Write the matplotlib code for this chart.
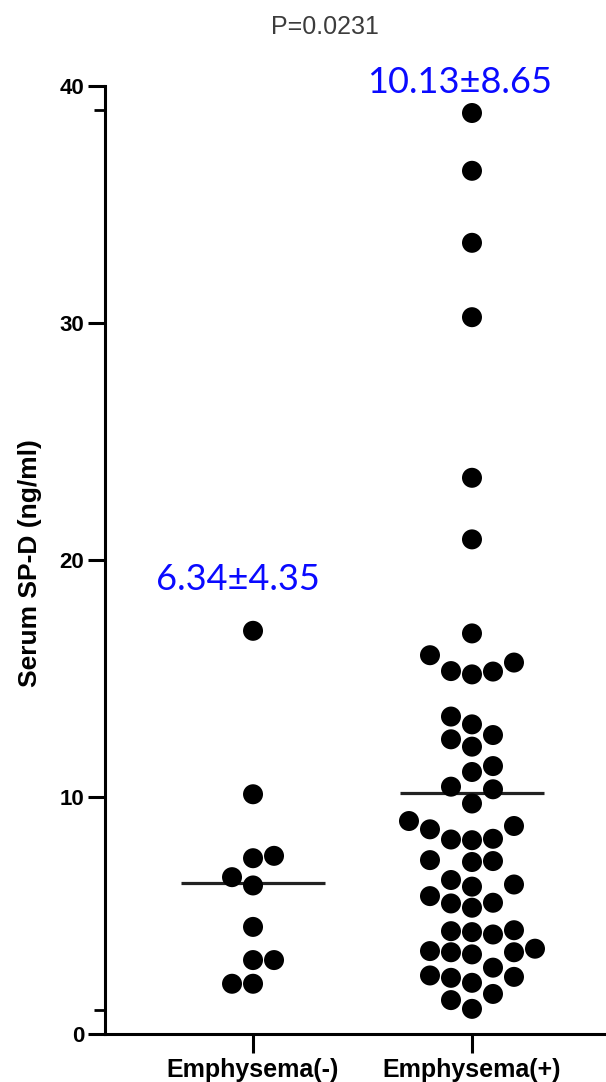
import numpy as np
import matplotlib.pyplot as plt

groups = ["Emphysema(-)", "Emphysema(+)"]

# serum SP-D (ng/ml)
neg_values = [17.0, 10.1, 7.5, 7.4, 6.6, 6.25, 4.5, 3.1, 3.1, 2.1, 2.1]
pos_values = [38.86, 36.42, 33.38, 30.24, 23.46, 20.86, 16.89,
              15.16, 15.28, 15.66, 15.97, 15.30,
              13.38, 13.05, 12.60, 12.42, 12.11,
              11.29, 11.04, 10.31, 10.42, 9.71,
              8.97, 8.76, 8.19, 8.22, 8.16, 8.62,
              7.24, 7.32, 7.28,
              5.80, 6.20, 6.29, 6.48,
              5.31, 5.49, 5.52,
              4.28, 4.36, 4.18, 4.32,
              3.34, 3.43, 3.43, 3.48, 3.58,
              2.45, 2.14, 2.78, 2.35, 2.39,
              1.67, 1.41, 1.04]
mean_labels = ["6.34\u00b14.35", "10.13\u00b18.65"]
p_label = "P=0.0231"
y_major = [0, 10, 20, 30, 40]
y_minor = [1, 39]

W, H = 606, 1082
xmin, xmax = -0.676, 1.612
ymin, ymax = 0, 40
ax_rect = [105 / W, 48.5 / H, 1 - 105 / W, 947.5 / H]

dot_px = 20      # marker diameter in pixels
col_px = 21      # spacing of swarm columns


def grid_swarm(values, dx, dy):
    # put each dot in the nearest column (0, -1, +1, ...) where it does not overlap
    vals = np.asarray(values, dtype=float)
    placed = {}
    offs = np.zeros(len(vals))
    for i in np.argsort(vals, kind="stable"):
        left = sum(len(v) for c, v in placed.items() if c < 0)
        right = sum(len(v) for c, v in placed.items() if c > 0)
        k = 0
        while True:
            if k == 0:
                cands = [0]
            else:
                cands = [-k, k] if left <= right else [k, -k]
            free = [c for c in cands
                    if all(abs(vals[i] - u) >= dy for u in placed.get(c, []))]
            if free:
                col = free[0]
                break
            k += 1
        placed.setdefault(col, []).append(vals[i])
        offs[i] = col * dx
    return offs


fig = plt.figure(figsize=(W / 100, H / 100), dpi=100)
ax = fig.add_axes(ax_rect)
ax.set_xlim(xmin, xmax)
ax.set_ylim(ymin, ymax)

px_x = ax_rect[2] * W / (xmax - xmin)
px_y = ax_rect[3] * H / (ymax - ymin)

for i, vals in enumerate([neg_values, pos_values]):
    offs = grid_swarm(vals, col_px / px_x, col_px / px_y)
    ax.scatter(i + offs, vals, s=(dot_px * 0.72) ** 2, color="black",
               edgecolors="none", zorder=3, clip_on=False)
    ax.hlines(np.mean(vals), i - 0.33, i + 0.33, color="#222222",
              linewidth=2.3, zorder=2)

ax.spines["top"].set_visible(False)
ax.spines["right"].set_visible(False)
ax.spines["left"].set_linewidth(2.2)
ax.spines["bottom"].set_linewidth(2.2)

ax.set_yticks(y_major)
ax.set_yticks(y_minor, minor=True)
ax.set_xticks([0, 1])
ax.set_xticklabels(groups)
ax.tick_params(axis="y", which="major", length=12, width=2.2, pad=3)
ax.tick_params(axis="y", which="minor", length=8, width=2.0)
ax.tick_params(axis="x", which="major", length=14, width=2.2, pad=4)
for lab in ax.get_yticklabels():
    lab.set_fontproperties({"family": "Liberation Sans", "weight": "bold", "size": 16})
for lab in ax.get_xticklabels():
    lab.set_fontproperties({"family": "Liberation Sans", "weight": "bold", "size": 18})

ax.set_ylabel("Serum SP-D (ng/ml)", family="Liberation Sans",
              fontweight="bold", fontsize=19)
ax.yaxis.set_label_coords(-0.126, 0.497)

# mean +- SD annotations
ax.text(-0.068, 18.73, mean_labels[0], color="#0a0aff", family="Lato",
        fontsize=26, ha="center", va="baseline")
ax.text(0.941, 39.72, mean_labels[1], color="#0a0aff", family="Lato",
        fontsize=26, ha="center", va="baseline")

fig.text(325 / W, 1 - 27 / H, p_label, color="#3c3c3c", family="Liberation Sans",
         fontsize=18, ha="center", va="center")

fig.savefig("out.png", dpi=100)
